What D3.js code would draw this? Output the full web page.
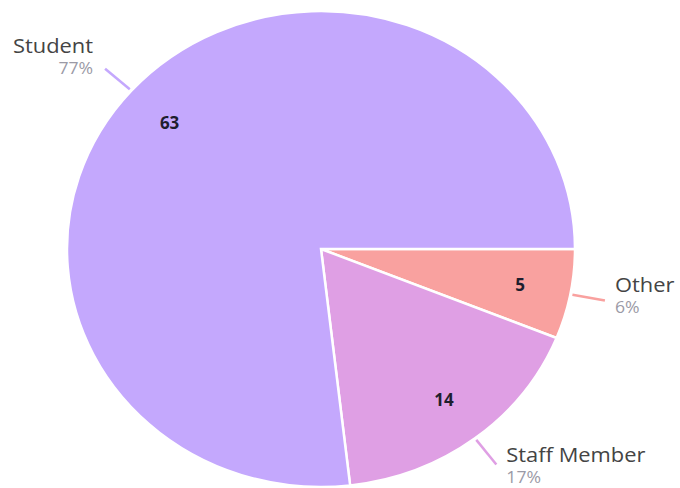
<!DOCTYPE html>
<html>
<head>
<meta charset="utf-8">
<script src="https://cdn.jsdelivr.net/npm/d3@7"></script>
<style>
  html, body { margin: 0; padding: 0; background: #ffffff; }
  svg { display: block; }
</style>
</head>
<body>
<svg id="chart" width="680" height="488"></svg>
<script>
// ---- data ----
const categories = ["Other", "Staff Member", "Student"];
const counts = [5, 14, 63];
const percentLabels = ["6%", "17%", "77%"];
const sliceColors = ["#f9a19f", "#df9fe4", "#c4a8fd"];

// ---- layout ----
const W = 680, H = 488;
const cx = 321, cy = 249;
const ry = 238, rx = 254;
const sx = rx / ry;

const svg = d3.select("#chart");
const g = svg.append("g").attr("transform", `translate(${cx},${cy}) scale(${sx},1)`);

const data = categories.map((c, i) => ({ name: c, value: counts[i], pct: percentLabels[i], color: sliceColors[i] }));

const pie = d3.pie()
  .value(d => d.value)
  .sort(null)
  .startAngle(Math.PI / 2)
  .endAngle(Math.PI / 2 + 2 * Math.PI);

const arcs = pie(data);
const arc = d3.arc().innerRadius(0).outerRadius(ry);
const labelArc = d3.arc().innerRadius(190).outerRadius(190);

g.selectAll("path.slice")
  .data(arcs)
  .enter().append("path")
  .attr("class", "slice")
  .attr("d", arc)
  .attr("fill", d => d.data.color)
  .attr("stroke", "#ffffff")
  .attr("stroke-width", 2.5)
  .attr("vector-effect", "non-scaling-stroke");

// inner value labels
g.selectAll("text.val")
  .data(arcs)
  .enter().append("text")
  .attr("class", "val")
  .attr("transform", d => { const [x, y] = labelArc.centroid(d); return `translate(${x},${y}) scale(${1/sx},1)`; })
  .attr("text-anchor", "middle")
  .attr("dy", "0.36em")
  .attr("font-family", "'Open Sans', sans-serif")
  .attr("font-weight", 700)
  .attr("font-size", 17)
  .attr("fill", "#1e1e2e")
  .text(d => d.data.value);

// leader lines and outer labels
const r0 = 240, r1 = 271;
arcs.forEach(d => {
  const mid = (d.startAngle + d.endAngle) / 2;
  const ux = Math.sin(mid), uy = -Math.cos(mid);
  const x0 = ux * r0, y0 = uy * r0, x1 = ux * r1, y1 = uy * r1;
  g.append("line")
    .attr("x1", x0).attr("y1", y0).attr("x2", x1).attr("y2", y1)
    .attr("stroke", d.data.color)
    .attr("stroke-width", 2.5)
    .attr("vector-effect", "non-scaling-stroke");
  const right = ux > 0;
  const tx = x1 + (right ? 10 : -12) / sx;
  const nameY = y1 - 10 + 9 * uy;
  const t = g.append("g").attr("transform", `translate(${tx},${nameY})`);
  t.append("text")
    .attr("text-anchor", right ? "start" : "end")
    .attr("font-family", "'Open Sans', sans-serif")
    .attr("font-weight", 500)
    .attr("font-size", 20.5)
    .attr("fill", "#444444")
    .text(d.data.name);
  t.append("text")
    .attr("y", 21)
    .attr("text-anchor", right ? "start" : "end")
    .attr("font-family", "'Open Sans', sans-serif")
    .attr("font-size", 16.5)
    .attr("fill", "#9b9aa6")
    .text(d.data.pct);
});
</script>
</body>
</html>
